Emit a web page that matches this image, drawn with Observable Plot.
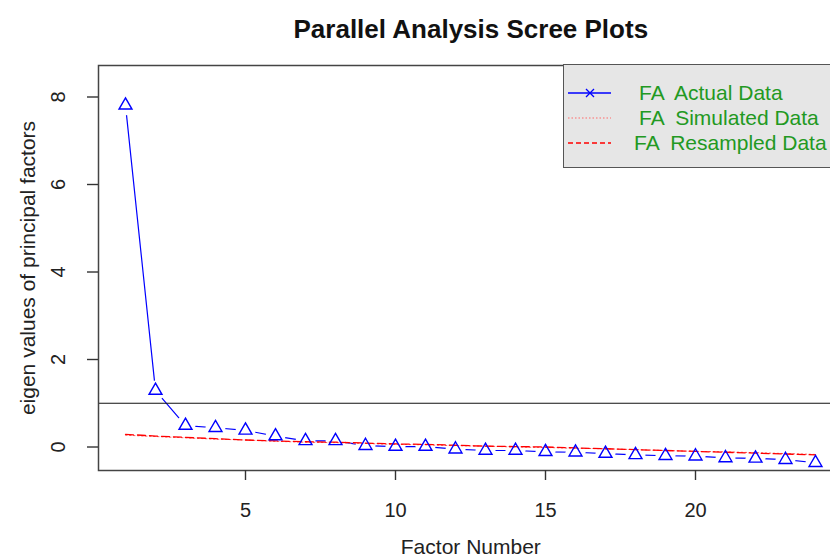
<!DOCTYPE html>
<html>
<head>
<meta charset="utf-8">
<script src="https://cdn.jsdelivr.net/npm/d3@7"></script>
<script src="https://cdn.jsdelivr.net/npm/@observablehq/plot@0.6"></script>
<style>
  html, body { margin: 0; padding: 0; background: #fff; }
  body { width: 830px; height: 559px; overflow: hidden; position: relative; font-family: "Liberation Sans", Arial, sans-serif; }
  #chart svg { overflow: hidden; display: block; }
  #legend { position: absolute; left: 563px; top: 64px; width: 300px; height: 104px; background: #e6e6e6; border: 1.5px solid #555; box-sizing: border-box; }
  #legend svg { display: block; }
</style>
</head>
<body>
<div id="chart"></div>
<div id="legend"></div>
<script>
// ---- data ----
const factors = [1, 2, 3, 4, 5, 6, 7, 8, 9, 10, 11, 12, 13, 14, 15, 16, 17, 18, 19, 20, 21, 22, 23, 24];
const actual = [7.81, 1.29, 0.49, 0.44, 0.38, 0.25, 0.14, 0.14, 0.03, 0.01, 0.01, -0.05, -0.08, -0.08, -0.11, -0.12, -0.15, -0.18, -0.20, -0.21, -0.25, -0.26, -0.29, -0.36];
const simulated = [0.27, 0.24, 0.21, 0.18, 0.16, 0.13, 0.11, 0.10, 0.08, 0.06, 0.05, 0.03, 0.02, 0.00, -0.01, -0.03, -0.04, -0.06, -0.08, -0.10, -0.11, -0.13, -0.15, -0.17];
const resampled = [0.29, 0.25, 0.22, 0.19, 0.16, 0.14, 0.12, 0.11, 0.09, 0.07, 0.06, 0.04, 0.02, 0.01, 0.00, -0.02, -0.04, -0.06, -0.08, -0.10, -0.12, -0.14, -0.16, -0.18];
const xTicks = [5, 10, 15, 20];
const yTicks = [0, 2, 4, 6, 8];
const threshold = [1];
const titleText = "Parallel Analysis Scree Plots";
const xLabel = "Factor Number";
const yLabel = "eigen values of principal factors";
const legendLabels = ["FA  Actual Data", "FA  Simulated Data", "FA  Resampled Data"];

const rowsA = factors.map((f, i) => ({f, v: actual[i]}));
const rowsS = factors.map((f, i) => ({f, v: simulated[i]}));
const rowsR = factors.map((f, i) => ({f, v: resampled[i]}));

const font = "Liberation Sans, Arial, sans-serif";

const chart = Plot.plot({
  width: 830,
  height: 559,
  marginTop: 65,
  marginBottom: 89,
  marginLeft: 98,
  marginRight: -12.6,
  style: {fontFamily: font, fontSize: "20px", color: "#111", background: "#fff", overflow: "hidden"},
  x: {domain: [0.1, 24.92], label: null},
  y: {domain: [-0.537, 8.72], label: null},
  marks: [
    Plot.line(rowsA, {x: "f", y: "v", stroke: "blue", strokeWidth: 1.2}),
    Plot.dot(rowsA, {x: "f", y: "v", r: 10, fill: "white", stroke: null}),
    Plot.ruleY(threshold, {stroke: "#111", strokeWidth: 1.2}),
    Plot.line(rowsS, {x: "f", y: "v", stroke: "#ff5a5a", strokeWidth: 1, strokeDasharray: "1.5,2.5"}),
    Plot.line(rowsR, {x: "f", y: "v", stroke: "red", strokeWidth: 1.3, strokeDasharray: "8,4"}),
    Plot.dot(rowsA, {x: "f", y: "v", symbol: "triangle", r: 4.8, stroke: "blue", strokeWidth: 1.4, fill: "none"}),
    Plot.frame({stroke: "#444", strokeWidth: 1.5}),
    Plot.axisX({ticks: xTicks, tickSize: 10, tickPadding: 22, fontSize: 20, stroke: "#333", fill: "#222", strokeWidth: 1.4, label: null}),
    Plot.axisY({ticks: yTicks, tickSize: 11, tickFormat: () => "", stroke: "#333", strokeWidth: 1.4, label: null}),
    Plot.text(yTicks, {y: d => d, text: d => String(d), frameAnchor: "left", dx: -40, rotate: -90, textAnchor: "middle", lineAnchor: "middle", fontSize: 20, fill: "#222"}),
    Plot.text([titleText], {text: d => d, frameAnchor: "top", dy: -36, textAnchor: "middle", lineAnchor: "middle", fontSize: 26, fontWeight: "bold", fill: "#111"}),
    Plot.text([xLabel], {text: d => d, frameAnchor: "bottom", dy: 77, textAnchor: "middle", lineAnchor: "middle", fontSize: 21, fill: "#222"}),
    Plot.text([yLabel], {text: d => d, frameAnchor: "left", dx: -70, rotate: -90, textAnchor: "middle", lineAnchor: "middle", fontSize: 21, fill: "#222"})
  ]
});
document.getElementById("chart").appendChild(chart);

// ---- legend (decoration) ----
const lg = d3.select("#legend").append("svg").attr("width", 300).attr("height", 101);
const rowY = [28, 53, 78];
const textX = [75, 75, 70];
const styles = [
  {stroke: "blue", dash: null, width: 1.3},
  {stroke: "#ff6a6a", dash: "1.5,2", width: 1.2},
  {stroke: "red", dash: "5,3", width: 1.3}
];
legendLabels.forEach((lab, i) => {
  const s = styles[i];
  const ln = lg.append("line").attr("x1", 4).attr("x2", 47).attr("y1", rowY[i]).attr("y2", rowY[i])
    .attr("stroke", s.stroke).attr("stroke-width", s.width);
  if (s.dash) ln.attr("stroke-dasharray", s.dash);
  if (i === 0) {
    const cx = 26, cy = rowY[i], h = 4;
    lg.append("path").attr("d", `M${cx-h},${cy-h}L${cx+h},${cy+h}M${cx-h},${cy+h}L${cx+h},${cy-h}`)
      .attr("stroke", "blue").attr("stroke-width", 1.3);
  }
  lg.append("text").attr("x", textX[i]).attr("y", rowY[i]).attr("dy", "0.35em")
    .attr("font-family", font).attr("font-size", 21).attr("fill", "#229922")
    .attr("xml:space", "preserve").style("white-space", "pre").text(lab);
});
</script>
</body>
</html>
